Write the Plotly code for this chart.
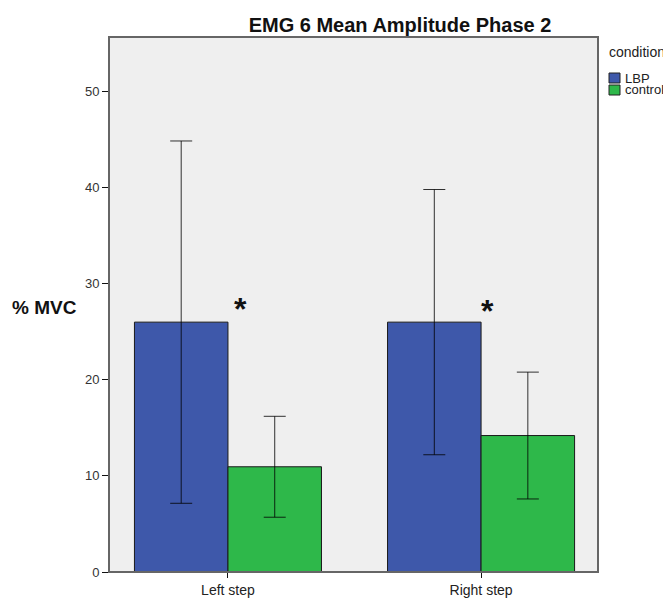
import plotly.graph_objects as go

# data
steps = ["Left step", "Right step"]
conditions = ["LBP", "control"]
mean_lbp = [26.0, 26.0]
err_lbp = [18.85, 13.8]
mean_control = [10.95, 14.2]
err_control = [5.25, 6.6]
colors = {"LBP": "#3e58aa", "control": "#2eb84a"}

# significance marks above the LBP bars
star_at = ["Left step", "Right step"]
star_y = [28.0, 27.8]
star_shift = [13, 6]  # px right of the category centre

FONT = "Liberation Sans, Arial, sans-serif"
L, R, T, B = 109, 598, 37, 572  # plot area in page pixels
W, H = R - L, B - T

fig = go.Figure()
for name, means, errs in [("LBP", mean_lbp, err_lbp), ("control", mean_control, err_control)]:
    fig.add_trace(go.Bar(
        x=steps, y=means, name=name,
        marker=dict(color=colors[name], line=dict(color="#1a1a1a", width=1)),
        error_y=dict(type="data", array=errs, visible=True,
                     color="rgba(0,0,0,0.8)", thickness=1, width=11),
        showlegend=False,
    ))

for sx, sy, sh in zip(star_at, star_y, star_shift):
    fig.add_annotation(x=sx, y=sy, xref="x", yref="y", text="<b>*</b>", xshift=sh,
                       showarrow=False, font=dict(size=32, color="#111", family=FONT),
                       xanchor="center", yanchor="middle", yshift=-6)

# frame around the plot area
fig.add_shape(type="rect", xref="paper", yref="paper", x0=0, y0=0, x1=1, y1=1,
              line=dict(color="#666", width=2), layer="above")

# hand-made legend (tight spacing as in the reference)
fig.add_annotation(x=(607 - L) / W, y=(B - 52) / H, xref="paper", yref="paper", text="condition",
                   showarrow=False, xanchor="left", yanchor="middle",
                   font=dict(size=14, color="#222", family=FONT))
for i, name in enumerate(conditions):
    top = 73 + 12 * i
    fig.add_shape(type="rect", xref="paper", yref="paper",
                  x0=(609 - L) / W, x1=(620 - L) / W,
                  y0=(B - top - 10) / H, y1=(B - top) / H,
                  fillcolor=colors[name], line=dict(color="#222", width=1))
    fig.add_annotation(x=(623 - L) / W, y=(B - top - 5) / H, xref="paper", yref="paper",
                       text=name, showarrow=False, xanchor="left", yanchor="middle",
                       font=dict(size=13, color="#222", family=FONT))

# y axis title, placed by hand
fig.add_annotation(x=(44 - L) / W, y=(B - 307) / H, xref="paper", yref="paper", text="<b>% MVC</b>",
                   showarrow=False, xanchor="center", yanchor="middle",
                   font=dict(size=19, color="#111", family=FONT))

fig.update_layout(
    width=663, height=598,
    margin=dict(l=L, r=663 - R, t=T, b=598 - B),
    paper_bgcolor="white", plot_bgcolor="#efefef",
    barmode="group", bargap=0.261, bargroupgap=0,
    title=dict(text="<b>EMG 6 Mean Amplitude Phase 2</b>", x=400 / 663, xref="container",
               xanchor="center", y=1 - 25 / 598, yanchor="middle",
               font=dict(size=20, color="#111", family=FONT)),
    font=dict(family=FONT, color="#222"),
)
fig.update_xaxes(range=[-0.47, 1.462], showgrid=False, showline=True, linecolor="#111",
                 linewidth=1, ticks="outside", ticklen=5, tickcolor="#111", automargin=False,
                 tickfont=dict(size=14, color="#222"))
fig.update_yaxes(range=[0, 55.67], dtick=10, showgrid=False, zeroline=False, showline=True,
                 linecolor="#111", linewidth=1, ticks="outside", ticklen=6, tickcolor="#111",
                 automargin=False, tickfont=dict(size=13, color="#333"))

fig.write_html("out.html", config={"displayModeBar": False},
               post_script="document.body.style.margin='0';")
